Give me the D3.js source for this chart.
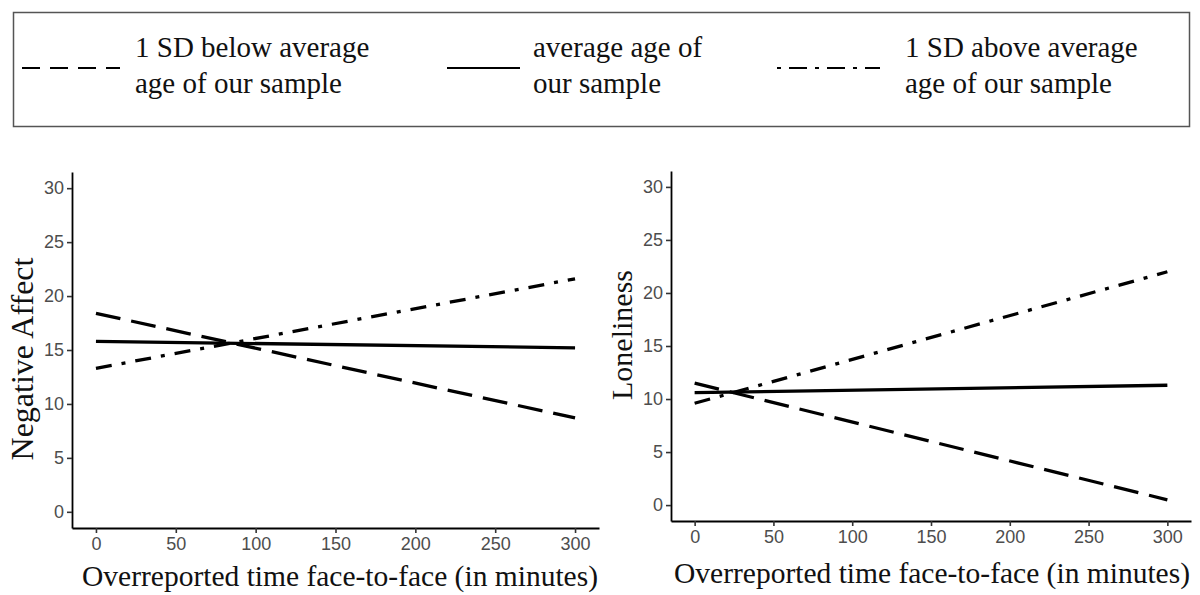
<!DOCTYPE html>
<html>
<head>
<meta charset="utf-8">
<script src="https://cdn.jsdelivr.net/npm/d3@7"></script>
<style>
  html, body { margin: 0; padding: 0; background: #fff; }
  svg { display: block; }
</style>
</head>
<body>
<svg id="chart" width="1200" height="595"></svg>
<script>
// ---- data ----
const xValues = [0, 300];
const xTicks = [0, 50, 100, 150, 200, 250, 300];
const yTicks = [0, 5, 10, 15, 20, 25, 30];
const seriesNames = ["1 SD below average age of our sample", "average age of our sample", "1 SD above average age of our sample"];
const negAffectBelow = [18.4, 8.7];
const negAffectAverage = [15.8, 15.2];
const negAffectAbove = [13.3, 21.6];
const lonelinessBelow = [11.5, 0.5];
const lonelinessAverage = [10.6, 11.3];
const lonelinessAbove = [9.6, 22.0];
const legendLines = [["1 SD below average", "age of our sample"], ["average age of", "our sample"], ["1 SD above average", "age of our sample"]];
const xTitle = "Overreported time face-to-face (in minutes)";

const svg = d3.select("#chart");
const serif = "'Liberation Serif', 'Times New Roman', serif";
const sans = "'Liberation Sans', Arial, sans-serif";

const dashStyles = ["25,11", null, "16,10,4,10"];

// ---- legend ----
const lg = svg.append("g");
lg.append("rect").attr("x", 13.5).attr("y", 12.5).attr("width", 1176).attr("height", 114)
  .attr("fill", "#fff").attr("stroke", "#555").attr("stroke-width", 1.5);
const legendItems = [
  {x1: 22, x2: 120, tx: 135, dash: "18,10"},
  {x1: 447, x2: 520, tx: 533, dash: null},
  {x1: 777, x2: 880, tx: 905, dash: "4,8,18,8"}
];
legendItems.forEach((d, i) => {
  const l = lg.append("line").attr("x1", d.x1).attr("x2", d.x2).attr("y1", 68).attr("y2", 68)
    .attr("stroke", "#000").attr("stroke-width", 2.2);
  if (d.dash) l.attr("stroke-dasharray", d.dash);
  const t = lg.append("text").attr("x", d.tx).attr("font-family", serif).attr("font-size", 29).attr("fill", "#111");
  legendLines[i].forEach((s, k) => {
    t.append("tspan").attr("x", d.tx).attr("y", 57 + k * 36).text(s);
  });
});

// ---- panels ----
function panel(cfg) {
  const x = d3.scaleLinear().domain([-15, 315]).range([cfg.left, cfg.right]);
  const y = d3.scaleLinear().domain([-1.5, 31.5]).range([cfg.bottom, cfg.top]);
  const g = svg.append("g");

  const xa = g.append("g").attr("transform", `translate(0,${cfg.bottom})`)
    .call(d3.axisBottom(x).tickValues(xTicks).tickSize(5).tickSizeOuter(0).tickPadding(4));
  const ya = g.append("g").attr("transform", `translate(${cfg.left},0)`)
    .call(d3.axisLeft(y).tickValues(yTicks).tickSize(5).tickSizeOuter(0).tickPadding(3));
  [xa, ya].forEach(a => {
    a.select(".domain").attr("stroke", "#000").attr("stroke-width", 1.8);
    a.selectAll(".tick line").attr("stroke", "#333").attr("stroke-width", 1.6);
    a.selectAll(".tick text").attr("font-family", sans).attr("font-size", 18).attr("fill", "#4d4d4d");
  });

  const line = d3.line().x((d, i) => x(xValues[i])).y(d => y(d));
  cfg.series.forEach((vals, i) => {
    const p = g.append("path").datum(vals).attr("d", line)
      .attr("fill", "none").attr("stroke", "#000").attr("stroke-width", 3.3);
    if (dashStyles[i]) p.attr("stroke-dasharray", dashStyles[i]);
  });

  g.append("text").attr("transform", `translate(${cfg.ytx},${cfg.yty}) rotate(-90)`)
    .attr("text-anchor", "middle").attr("font-family", serif).attr("font-size", cfg.ysize).attr("fill", "#111")
    .text(cfg.ylabel);
  g.append("text").attr("x", cfg.xtx).attr("y", cfg.xty).attr("text-anchor", "middle")
    .attr("font-family", serif).attr("font-size", 29.5).attr("fill", "#111").text(xTitle);
}

panel({left: 72, right: 599, top: 172, bottom: 528,
  series: [negAffectBelow, negAffectAverage, negAffectAbove],
  ylabel: "Negative Affect", ysize: 32, ytx: 33, yty: 359, xtx: 340, xty: 586});
panel({left: 671, right: 1191, top: 171, bottom: 521,
  series: [lonelinessBelow, lonelinessAverage, lonelinessAbove],
  ylabel: "Loneliness", ysize: 30, ytx: 632, yty: 335, xtx: 932, xty: 583});
</script>
</body>
</html>
